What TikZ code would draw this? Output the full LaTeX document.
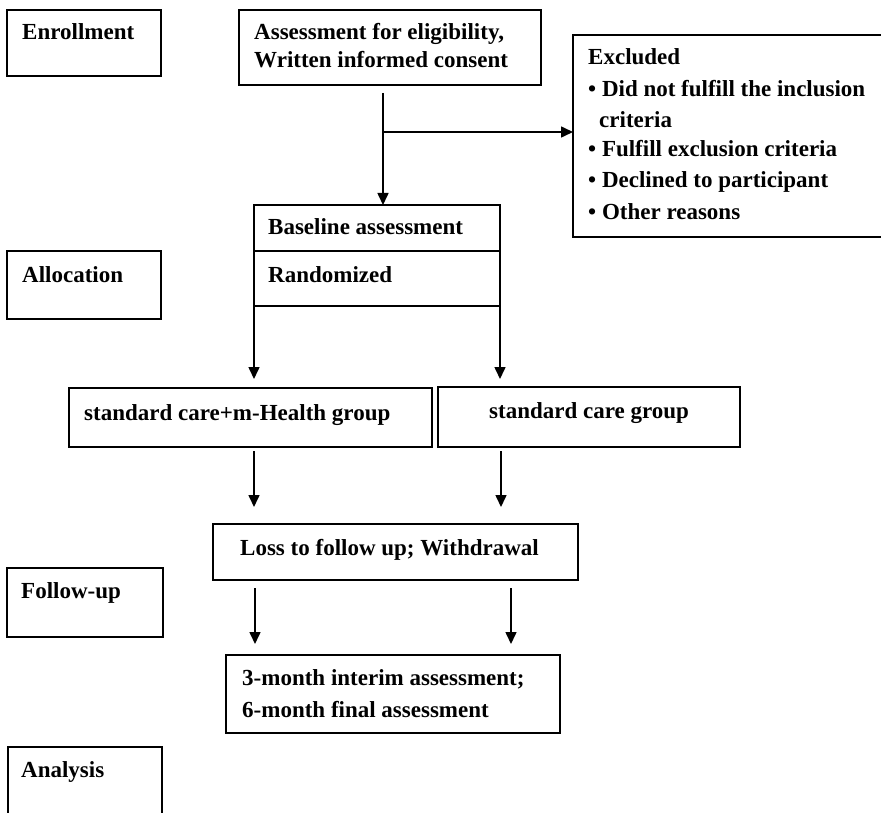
\documentclass[tikz,border=0pt]{standalone}
\usepackage{fontspec}
\setmainfont{Liberation Serif}
\usetikzlibrary{arrows.meta}
\begin{document}
\begin{tikzpicture}[x=1pt,y=-1pt,
  box/.style={draw, line width=1.6pt, inner sep=0pt, outer sep=0pt, anchor=north west},
  lbl/.style={anchor=base west, inner sep=0pt, font=\fontsize{23}{28}\selectfont\bfseries},
  arr/.style={line width=1.6pt, -{Triangle[length=12pt,width=11pt]}}]
\useasboundingbox (0,0) rectangle (881,813);
% boxes
\node[box, minimum width=154pt, minimum height=66pt] (enr) at (7,10) {};
\node[box, minimum width=302pt, minimum height=75pt] (assess) at (239,10) {};
\node[box, minimum width=330pt, minimum height=202pt] (excl) at (573,35) {};
\node[box, minimum width=246pt, minimum height=46pt] (base) at (254,205) {};
\node[box, minimum width=246pt, minimum height=55pt] (rand) at (254,251) {};
\node[box, minimum width=154pt, minimum height=68pt] (alloc) at (7,251) {};
\node[box, minimum width=363pt, minimum height=59pt] (grpA) at (69,388) {};
\node[box, minimum width=302pt, minimum height=60pt] (grpB) at (438,387) {};
\node[box, minimum width=365pt, minimum height=56pt] (loss) at (213,524) {};
\node[box, minimum width=334pt, minimum height=78pt] (fin) at (226,655) {};
\node[box, minimum width=156pt, minimum height=69pt] (fol) at (7,568) {};
\node[box, minimum width=154pt, minimum height=80pt] (ana) at (8,747) {};
% texts
\node[lbl] (tenr) at (22,40) {Enrollment};
\node[lbl] (tas1) at (254,40) {Assessment for eligibility,};
\node[lbl] (tas2) at (254,68) {Written informed consent};
\node[lbl] (tex0) at (588,65) {Excluded};
\node[lbl] (tex1) at (588,97) {• Did not fulfill the inclusion};
\node[lbl] (tex2) at (599,128) {criteria};
\node[lbl] (tex3) at (588,157) {• Fulfill exclusion criteria};
\node[lbl] (tex4) at (588,188) {• Declined to participant};
\node[lbl] (tex5) at (588,220) {• Other reasons};
\node[lbl] (tbase) at (268,235) {Baseline assessment};
\node[lbl] (trand) at (268,282) {Randomized};
\node[lbl] (talloc) at (22,282) {Allocation};
\node[lbl] (tgA) at (84,420) {standard care+m-Health group};
\node[lbl] (tgB) at (489,418) {standard care group};
\node[lbl] (tloss) at (240,555) {Loss to follow up; Withdrawal};
\node[lbl] (tfin1) at (242,685) {3-month interim assessment;};
\node[lbl] (tfin2) at (242,717) {6-month final assessment};
\node[lbl] (tfol) at (21,598) {Follow-up};
\node[lbl] (tana) at (21,777) {Analysis};
% connectors
\coordinate (a1) at (383,93);
\coordinate (br) at (383,132);
\draw[arr] (a1) -- (a1 |- base.north);
\draw[arr] (br) -- (br -| excl.west);
\draw[arr] (rand.south west) -- ([yshift=9pt]rand.south west |- grpA.north);
\draw[arr] (rand.south east) -- ([yshift=9pt]rand.south east |- grpA.north);
\coordinate (g1) at (254,451);
\coordinate (g2) at (501,451);
\draw[arr] (g1) -- ([yshift=17pt]g1 |- loss.north);
\draw[arr] (g2) -- ([yshift=17pt]g2 |- loss.north);
\coordinate (l1) at (255,588);
\coordinate (l2) at (511,588);
\draw[arr] (l1) -- ([yshift=11pt]l1 |- fin.north);
\draw[arr] (l2) -- ([yshift=11pt]l2 |- fin.north);
\end{tikzpicture}
\end{document}
